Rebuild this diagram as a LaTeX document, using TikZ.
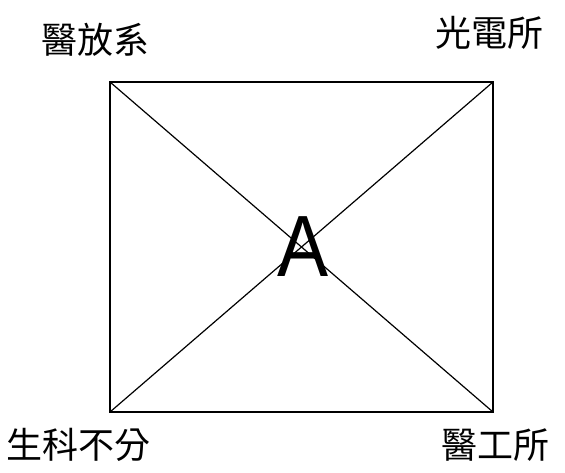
\documentclass[tikz,border=0pt]{standalone}
\usepackage{fontspec}
\setmainfont{Liberation Sans}
\newfontfamily\cjk{Noto Sans CJK TC}
\begin{document}
\begin{tikzpicture}[x=1pt,y=1pt,
  lbl/.style={font=\cjk\fontsize{36}{40}\selectfont, inner sep=0pt},
  edge/.style={line width=2pt},
  diag/.style={line width=1.2pt}]
\useasboundingbox (0,0) rectangle (565,472);
\coordinate (tl) at (110,390);
\coordinate (tr) at (493,390);
\coordinate (bl) at (110,60);
\coordinate (br) at (493,60);
\draw[diag] (tl) -- (br);
\draw[diag] (tr) -- (bl);
\draw[edge] (tl) rectangle (br);
\node[font=\fontsize{87}{90}\selectfont, inner sep=0pt, xscale=0.88] (a) at (303,225) {A};
\node[lbl] (n1) at (95,432) {醫放系};
\node[lbl] (n2) at (489,439) {光電所};
\node[lbl] (n3) at (78,27) {生科不分};
\node[lbl] (n4) at (495,27) {醫工所};
\end{tikzpicture}
\end{document}
